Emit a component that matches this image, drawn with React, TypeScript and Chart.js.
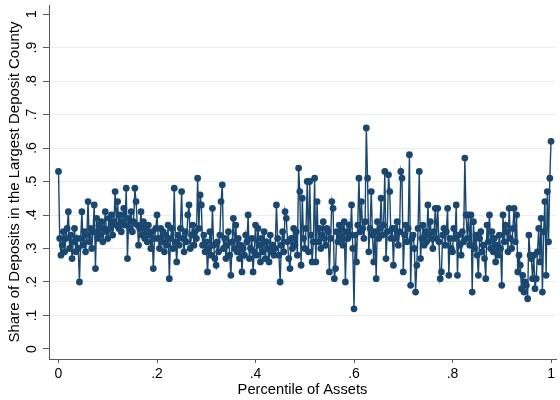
import React, { useEffect, useRef } from "react";
import { Chart, registerables } from "chart.js";

Chart.register(...registerables);

// Axis ticks (Stata style labels)
const xTickValues = [0, 0.2, 0.4, 0.6, 0.8, 1];
const xTickLabels = ["0", ".2", ".4", ".6", ".8", "1"];
const yTickValues = [0, 0.1, 0.2, 0.3, 0.4, 0.5, 0.6, 0.7, 0.8, 0.9, 1];
const yTickLabels = ["0", ".1", ".2", ".3", ".4", ".5", ".6", ".7", ".8", ".9", "1"];

const xTitle = "Percentile of Assets";
const yTitle = "Share of Deposits in the Largest Deposit County";

// Share of deposits in the largest deposit county, by asset percentile
const shareP0to20 = [
  0.53, 0.33, 0.28, 0.31, 0.35, 0.29, 0.33, 0.36, 0.41, 0.30, 0.34, 0.27, 0.32, 0.36, 0.29, 0.33,
  0.30, 0.20, 0.33, 0.41, 0.31, 0.35, 0.29, 0.34, 0.44, 0.32, 0.36, 0.30, 0.35, 0.43, 0.24, 0.39,
  0.33, 0.37, 0.34, 0.38, 0.32, 0.36, 0.41, 0.35, 0.33, 0.39, 0.36, 0.40, 0.34, 0.38, 0.47, 0.37,
  0.44, 0.36, 0.40, 0.35, 0.38, 0.42, 0.37, 0.48, 0.27, 0.39, 0.36, 0.41, 0.35, 0.38, 0.48, 0.44,
  0.37, 0.31, 0.36, 0.41, 0.34, 0.38, 0.33, 0.36, 0.32, 0.37, 0.34, 0.30, 0.35, 0.24, 0.33, 0.36,
];
const shareP20to40 = [
  0.40, 0.33, 0.30, 0.36, 0.32, 0.35, 0.29, 0.34, 0.31, 0.37, 0.21, 0.33, 0.36, 0.30, 0.48, 0.32,
  0.26, 0.34, 0.31, 0.36, 0.47, 0.33, 0.29, 0.35, 0.32, 0.40, 0.43, 0.30, 0.34, 0.37, 0.31, 0.35,
  0.33, 0.51, 0.36, 0.46, 0.43, 0.31, 0.34, 0.29, 0.32, 0.23, 0.30, 0.35, 0.28, 0.42, 0.31, 0.27,
  0.25, 0.32, 0.29, 0.34, 0.44, 0.49, 0.30, 0.33, 0.27, 0.31, 0.35, 0.28, 0.22, 0.32, 0.39, 0.30,
  0.37, 0.29, 0.33, 0.27, 0.31, 0.23, 0.30, 0.28, 0.34, 0.32, 0.40, 0.27, 0.30, 0.33, 0.23, 0.29,
];
const shareP40to60 = [
  0.37, 0.28, 0.36, 0.31, 0.26, 0.33, 0.29, 0.35, 0.27, 0.32, 0.30, 0.26, 0.34, 0.29, 0.31, 0.28,
  0.30, 0.43, 0.33, 0.28, 0.20, 0.31, 0.35, 0.29, 0.41, 0.39, 0.32, 0.27, 0.24, 0.33, 0.30, 0.36,
  0.31, 0.35, 0.28, 0.54, 0.47, 0.25, 0.45, 0.33, 0.30, 0.36, 0.50, 0.29, 0.50, 0.34, 0.26, 0.32,
  0.51, 0.26, 0.44, 0.32, 0.36, 0.30, 0.34, 0.38, 0.33, 0.31, 0.36, 0.35, 0.23, 0.33, 0.44, 0.42,
  0.21, 0.24, 0.35, 0.32, 0.37, 0.33, 0.36, 0.31, 0.38, 0.20, 0.35, 0.33, 0.37, 0.34, 0.43, 0.30,
];
const shareP60to80 = [
  0.12, 0.34, 0.26, 0.37, 0.51, 0.35, 0.44, 0.36, 0.33, 0.38, 0.66, 0.51, 0.29, 0.36, 0.47, 0.34,
  0.26, 0.35, 0.21, 0.38, 0.33, 0.36, 0.45, 0.34, 0.37, 0.53, 0.27, 0.35, 0.52, 0.47, 0.33, 0.36,
  0.25, 0.36, 0.33, 0.38, 0.31, 0.35, 0.53, 0.51, 0.23, 0.34, 0.37, 0.32, 0.36, 0.58, 0.19, 0.33,
  0.34, 0.30, 0.17, 0.25, 0.36, 0.53, 0.27, 0.33, 0.37, 0.31, 0.35, 0.32, 0.43, 0.34, 0.38, 0.33,
  0.30, 0.35, 0.42, 0.33, 0.42, 0.32, 0.21, 0.23, 0.34, 0.36, 0.31, 0.35, 0.42, 0.22, 0.33, 0.30,
];
const shareP80to100 = [
  0.29, 0.36, 0.33, 0.43, 0.22, 0.34, 0.31, 0.28, 0.35, 0.32, 0.57, 0.40, 0.33, 0.40, 0.31, 0.40,
  0.17, 0.38, 0.30, 0.34, 0.28, 0.22, 0.33, 0.35, 0.29, 0.31, 0.27, 0.21, 0.37, 0.32, 0.40, 0.30,
  0.35, 0.29, 0.33, 0.26, 0.31, 0.28, 0.34, 0.30, 0.19, 0.40, 0.32, 0.37, 0.35, 0.29, 0.42, 0.33,
  0.30, 0.36, 0.42, 0.32, 0.40, 0.23, 0.28, 0.25, 0.18, 0.22, 0.17, 0.20, 0.19, 0.15, 0.34, 0.28,
  0.27, 0.21, 0.28, 0.18, 0.21, 0.29, 0.36, 0.26, 0.39, 0.17, 0.35, 0.44, 0.22, 0.47, 0.32, 0.51, 0.62,
];

const shares = [...shareP0to20, ...shareP20to40, ...shareP40to60, ...shareP60to80, ...shareP80to100];
const points = shares.map((v, i) => ({ x: i / (shares.length - 1), y: v }));

const NAVY = "#1a476f";
const AXIS = "#5a5a5a";
const GRID = "#e6eef2";
const FONT = "'Liberation Sans', Arial, Helvetica, sans-serif";

export default function App() {
  const ref = useRef<HTMLCanvasElement>(null);
  useEffect(() => {
    const chart = new Chart(ref.current as HTMLCanvasElement, {
      type: "line",
      data: {
        datasets: [
          {
            data: points,
            borderColor: NAVY,
            borderWidth: 1.4,
            pointRadius: 3.4,
            pointBorderWidth: 0,
            pointBackgroundColor: NAVY,
            tension: 0,
            clip: false as any,
          },
        ],
      },
      options: {
        responsive: false,
        devicePixelRatio: 1,
        animation: false,
        layout: { padding: { left: 0, right: 0, top: 5, bottom: 0 } },
        plugins: { legend: { display: false }, tooltip: { enabled: false } },
        scales: {
          x: {
            type: "linear",
            min: -0.0193,
            max: 1.0101,
            afterBuildTicks: (s: any) => {
              s.ticks = xTickValues.map((v) => ({ value: v }));
            },
            afterFit: (s: any) => {
              s.height = 41;
              s.paddingLeft = 0;
              s.paddingRight = 0;
            },
            ticks: {
              autoSkip: false,
              maxRotation: 0,
              minRotation: 0,
              padding: 3,
              color: "#000",
              font: { family: FONT, size: 14 },
              callback: (_v: any, i: number) => xTickLabels[i],
            },
            grid: {
              drawOnChartArea: false,
              drawTicks: true,
              tickLength: 4,
              tickColor: AXIS,
            },
            border: { display: true, color: AXIS, width: 1 },
            title: {
              display: true,
              text: xTitle,
              color: "#000",
              font: { family: FONT, size: 14.7 },
              padding: { top: 0, bottom: 1.2 },
            },
          },
          y: {
            type: "linear",
            min: -0.0299,
            max: 1.027,
            afterBuildTicks: (s: any) => {
              s.ticks = yTickValues.map((v) => ({ value: v }));
            },
            afterFit: (s: any) => {
              s.width = 49;
              s.paddingTop = 0;
              s.paddingBottom = 0;
            },
            ticks: {
              autoSkip: false,
              minRotation: 90,
              maxRotation: 90,
              crossAlign: "center",
              padding: 5,
              color: "#000",
              font: { family: FONT, size: 14 },
              callback: (_v: any, i: number) => yTickLabels[i],
            },
            grid: {
              color: (ctx: any) =>
                ctx.tick && (ctx.tick.value === 0 || ctx.tick.value === 1) ? "rgba(0,0,0,0)" : GRID,
              lineWidth: 1,
              drawTicks: true,
              tickLength: 6,
              tickColor: AXIS,
            },
            border: { display: true, color: AXIS, width: 1 },
            title: {
              display: true,
              text: yTitle,
              color: "#000",
              font: { family: FONT, size: 15 },
              padding: { top: 5.5, bottom: 0 },
            },
          },
        },
      } as any,
    });
    return () => chart.destroy();
  }, []);
  return (
    <div style={{ position: "absolute", left: 0, top: 0, width: 560, height: 400, background: "#fff" }}>
      <canvas ref={ref} width={560} height={400} style={{ display: "block", width: 560, height: 400 }} />
    </div>
  );
}
